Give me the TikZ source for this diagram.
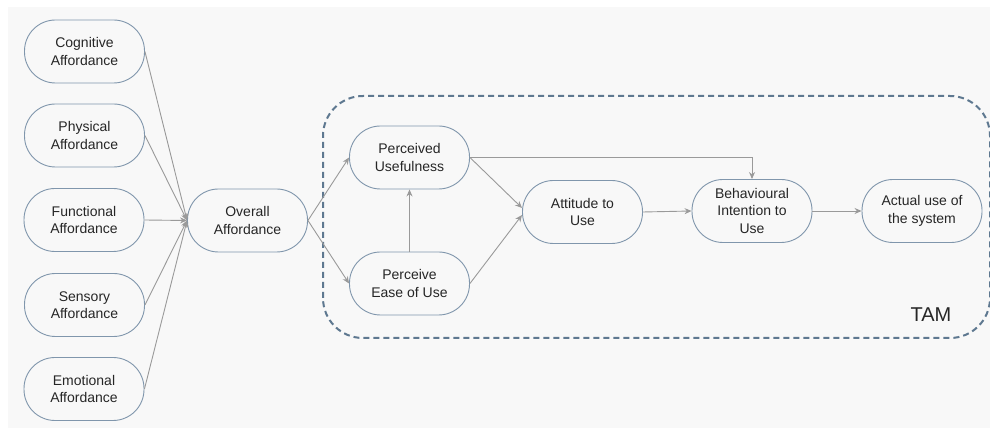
\documentclass[tikz,border=0pt]{standalone}
\usepackage{fontspec}
\setmainfont{Liberation Sans}
\usetikzlibrary{arrows.meta}
\definecolor{panel}{HTML}{F8F8F8}
\definecolor{nodeline}{HTML}{8096AC}
\definecolor{linkgray}{HTML}{9A9A9A}
\definecolor{boxline}{HTML}{5E7890}
\tikzset{
  pill/.style={draw=nodeline, line width=0.9pt, fill=panel, rounded corners=31pt,
    minimum width=120pt, minimum height=63pt, inner sep=2pt, align=center,
    font=\fontsize{14pt}{17.3pt}\selectfont, text=black!85},
  link/.style={draw=linkgray, line width=0.9pt, -{Stealth[length=7pt,width=6pt]}}
}
\begin{document}
\begin{tikzpicture}[x=1pt,y=1pt]
  \useasboundingbox (0,0) rectangle (990,430);
  \fill[white] (0,0) rectangle (990,430);
  \fill[panel] (8,2) rectangle (990,423);

  % TAM frame
  \draw[boxline, line width=2pt, dash pattern=on 6pt off 4pt, rounded corners=40pt]
    (323,92) rectangle (990,334);
  \node[font=\fontsize{20pt}{24pt}\selectfont, text=black!85] (tam) at (931,115) {TAM};

  % affordance inputs
  \node[pill] (cog) at (84.5,378.5) {Cognitive\\Affordance};
  \node[pill] (phy) at (84.5,294.5) {Physical\\Affordance};
  \node[pill] (fun) at (84,210) {Functional\\Affordance};
  \node[pill] (sen) at (84.5,125) {Sensory\\Affordance};
  \node[pill] (emo) at (84,41) {Emotional\\Affordance};
  \node[pill] (ovr) at (247.5,209.5) {Overall\\Affordance};

  % TAM constructs
  \node[pill] (pu)  at (409.5,272.5) {Perceived\\Usefulness};
  \node[pill] (peu) at (409.5,146.5) {Perceive\\Ease of Use};
  \node[pill] (att) at (582.5,218) {Attitude to\\Use};
  \node[pill] (bi)  at (752,219) {Behavioural\\Intention to\\Use};
  \node[pill] (act) at (922,219) {Actual use of\\the system};

  % connectors
  \foreach \n in {cog,phy,fun,sen,emo}
    \draw[link] (\n.east) -- (ovr.west);
  \draw[link] (ovr.east) -- (pu.west);
  \draw[link] (ovr.east) -- (peu.west);
  \draw[link] (peu.north) -- (pu.south);
  \draw[link] (pu.east) -- ([yshift=4pt]att.west);
  \draw[link] (peu.east) -- ([yshift=-3pt]att.west);
  \draw[link] (att.east) -- (bi.west);
  \draw[link] (bi.east) -- (act.west);
  \draw[link] (pu.east) -| (bi.north);
\end{tikzpicture}
\end{document}
